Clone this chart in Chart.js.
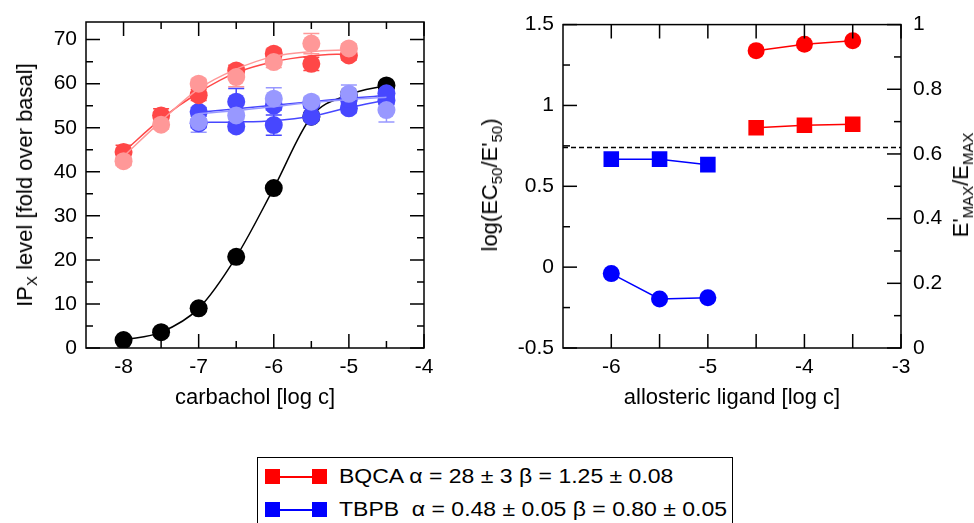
<!DOCTYPE html>
<html><head><meta charset="utf-8">
<script src="https://cdn.jsdelivr.net/npm/chart.js@4.4.0/dist/chart.umd.min.js"></script>
<style>
body{margin:0;background:#fff;width:974px;height:523px;overflow:hidden;position:relative;font-family:"Liberation Sans",Arial,sans-serif;color:#000;}
canvas{position:absolute;top:0;}
#c1{left:0;}
#c2{left:470px;}
.t{position:absolute;font-size:22px;white-space:nowrap;line-height:26px;}
.ctr{transform:translate(-50%,-50%);}
.rot{transform:translate(-50%,-50%) rotate(-90deg);}
sub{font-size:15px;vertical-align:-5px;line-height:0;}
#leg{position:absolute;left:257px;top:457px;width:476px;height:90px;border:1.5px solid #000;box-sizing:border-box;}
.row{position:absolute;left:0;height:30px;width:100%;}
.ln{position:absolute;left:14px;width:48px;height:1.5px;top:14px;}
.sq{position:absolute;width:15px;height:15px;top:7px;}
.lt{position:absolute;left:81px;top:2px;font-size:20px;white-space:pre;line-height:24px;transform:scaleX(1.15);transform-origin:0 50%;}
</style></head>
<body>
<canvas id="c1" width="460" height="420"></canvas>
<canvas id="c2" width="504" height="420"></canvas>

<div class="t rot" style="left:25px;top:185px;">IP<sub>X</sub> level [fold over basal]</div>
<div class="t ctr" style="left:255px;top:397px;">carbachol [log c]</div>
<div class="t rot" style="left:490px;top:185px;">log(EC<sub>50</sub>/E'<sub>50</sub>)</div>
<div class="t ctr" style="left:732px;top:397px;">allosteric ligand [log c]</div>
<div class="t rot" style="left:961px;top:185px;">E'<sub>MAX</sub>/E<sub>MAX</sub></div>

<div id="leg">
  <div class="row" style="top:4px;">
    <div class="ln" style="background:#ff0000;"></div>
    <div class="sq" style="left:7px;background:#ff0000;"></div>
    <div class="sq" style="left:54px;background:#ff0000;"></div>
    <div class="lt">BQCA α = 28 ± 3 β = 1.25 ± 0.08</div>
  </div>
  <div class="row" style="top:37px;">
    <div class="ln" style="background:#0000ff;"></div>
    <div class="sq" style="left:7px;background:#0000ff;"></div>
    <div class="sq" style="left:54px;background:#0000ff;"></div>
    <div class="lt">TBPB  α = 0.48 ± 0.05 β = 0.80 ± 0.05</div>
  </div>
</div>

<script>
// ---------- Left panel data ----------
const carbacholX = [-8, -7.5, -7, -6.5, -6, -5.5, -5, -4.5];
const controlY   = [1.8, 3.6, 9.0, 20.7, 36.3, 52.5, 57.5, 59.6];

const redX      = [-8, -7.5, -7, -6.5, -6, -5.5, -5];
const bqcaAY    = [44.5, 52.8, 57.4, 63.0, 66.8, 64.5, 66.4];
const bqcaAErr  = [1.5, 1.5, 1.2, 1.2, 1.0, 1.5, 1.0];
const bqcaAFit  = [44.5, 52.0, 58.0, 62.5, 65.0, 66.3, 66.8];
const bqcaBY    = [42.4, 50.7, 60.0, 61.5, 64.9, 69.1, 68.0];
const bqcaBErr  = [1.0, 1.0, 1.0, 2.2, 1.2, 2.3, 1.0];
const bqcaBFit  = [43.5, 51.5, 58.8, 63.3, 66.2, 67.3, 67.7];

const blueX      = [-7, -6.5, -6, -5.5, -5, -4.5];
const tbpbAY     = [53.6, 55.9, 55.0, 55.5, 56.5, 57.8];
const tbpbAErr   = [1.0, 3.0, 1.0, 1.0, 1.0, 1.0];
const tbpbAFit   = [53.5, 54.3, 55.1, 55.9, 56.7, 57.3];
const tbpbBY     = [51.0, 50.3, 50.6, 52.5, 54.4, 56.2];
const tbpbBErr   = [1.0, 1.0, 2.3, 1.0, 1.0, 1.0];
const tbpbBFit   = [51.2, 51.3, 51.6, 52.6, 54.6, 56.3];
const tbpbCY     = [51.3, 52.8, 56.6, 55.9, 57.7, 54.0];
const tbpbCErr   = [2.3, 1.0, 2.5, 1.0, 2.0, 2.7];
const tbpbCFit   = [53.2, 53.9, 54.8, 55.7, 56.4, 56.9];

const leftXMajor = [-8, -7, -6, -5, -4];
const leftXMinor = [-7.5, -6.5, -5.5, -4.5];
const leftYMajor = [0, 10, 20, 30, 40, 50, 60, 70];
const leftYMinor = [5, 15, 25, 35, 45, 55, 65];

// ---------- Right panel data ----------
const bqcaLigX     = [-4.5, -4, -3.5];
const bqcaLogRatio = [1.339, 1.379, 1.40];
const bqcaEmaxRat  = [0.681, 0.689, 0.692];
const tbpbLigX     = [-6, -5.5, -5];
const tbpbLogRatio = [-0.04, -0.197, -0.189];
const tbpbEmaxRat  = [0.584, 0.584, 0.567];
const refLineY     = 0.74;

const rightXMajor  = [-6, -5, -4, -3];
const rightXHalf   = [-5.5, -4.5, -3.5];
const rightY1Major = [-0.5, 0, 0.5, 1, 1.5];
const rightY1Minor = [-0.25, 0.25, 0.75, 1.25];
const rightY2Major = [0, 0.2, 0.4, 0.6, 0.8, 1];
const rightY2Minor = [0.1, 0.3, 0.5, 0.7, 0.9];

// ---------- helpers ----------
const pts = (xs, ys) => xs.map((x, i) => ({x, y: ys[i]}));
const DR = '#ff4747', LR = '#ff9898', DB = '#4747ff', LB = '#9898ff';

Chart.defaults.font.family = '"Liberation Sans", Arial, sans-serif';
Chart.defaults.font.size = 21;
Chart.defaults.color = '#000';
Chart.defaults.animation = false;

const frameTicks = {
  id: 'frameTicks',
  afterDraw(chart, args, opts) {
    const {ctx, chartArea: a} = chart;
    ctx.save();
    ctx.strokeStyle = '#000';
    ctx.lineWidth = 1.5;
    for (const t of opts.ticks) {
      const s = chart.scales[t.scale];
      for (const v of t.values) {
        const p = s.getPixelForValue(v);
        ctx.beginPath();
        if (s.isHorizontal()) {
          ctx.moveTo(p, a.bottom); ctx.lineTo(p, a.bottom - t.len);
          ctx.moveTo(p, a.top); ctx.lineTo(p, a.top + t.len);
        } else {
          if (t.left) { ctx.moveTo(a.left, p); ctx.lineTo(a.left + t.len, p); }
          if (t.right) { ctx.moveTo(a.right, p); ctx.lineTo(a.right - t.len, p); }
        }
        ctx.stroke();
      }
    }
    ctx.strokeRect(a.left, a.top, a.right - a.left, a.bottom - a.top);
    ctx.restore();
  }
};

const errorBars = {
  id: 'errorBars',
  beforeDatasetsDraw(chart) {
    const {ctx} = chart;
    const ys = chart.scales.y;
    ctx.save();
    ctx.lineWidth = 1.5;
    chart.data.datasets.forEach((ds, i) => {
      if (!ds.errors) return;
      const meta = chart.getDatasetMeta(i);
      ctx.strokeStyle = ds.borderColor;
      meta.data.forEach((el, j) => {
        const e = ds.errors[j];
        const v = ds.data[j].y;
        const y1 = ys.getPixelForValue(v - e), y2 = ys.getPixelForValue(v + e);
        ctx.beginPath();
        ctx.moveTo(el.x, y1); ctx.lineTo(el.x, y2);
        ctx.moveTo(el.x - 8, y1); ctx.lineTo(el.x + 8, y1);
        ctx.moveTo(el.x - 8, y2); ctx.lineTo(el.x + 8, y2);
        ctx.stroke();
      });
    });
    ctx.restore();
  }
};

const refLine = {
  id: 'refLine',
  afterDatasetsDraw(chart, args, opts) {
    if (opts.value === undefined) return;
    const {ctx, chartArea: a} = chart;
    const y = chart.scales.y.getPixelForValue(opts.value);
    ctx.save();
    ctx.strokeStyle = '#000'; ctx.lineWidth = 1.5; ctx.setLineDash([5, 3]);
    ctx.beginPath(); ctx.moveTo(a.left, y); ctx.lineTo(a.right, y); ctx.stroke();
    ctx.restore();
  }
};

function setTicks(arr) { return s => { s.ticks = arr.map(v => ({value: v})); }; }
const noGrid = {display: false, drawTicks: false, tickLength: 0};

function pointDs(xs, ys, col, err, order, radius = 9) {
  return {type: 'scatter', data: pts(xs, ys), showLine: false, pointRadius: radius,
    pointBackgroundColor: col, pointBorderColor: col, pointBorderWidth: 0, borderColor: col,
    errors: err, order: order};
}
function fitDs(xs, ys, col, order) {
  return {type: 'line', data: pts(xs, ys), pointRadius: 0, borderColor: col, borderWidth: 1.5,
    cubicInterpolationMode: 'monotone', fill: false, order: order};
}

// ---------- Left chart ----------
new Chart(document.getElementById('c1'), {
  type: 'scatter',
  data: {datasets: [
    pointDs(redX, bqcaBY, LR, bqcaBErr, 1),
    fitDs(redX, bqcaBFit, LR, 2),
    pointDs(blueX, tbpbCY, LB, tbpbCErr, 1),
    fitDs(blueX, tbpbCFit, LB, 2),
    pointDs(redX, bqcaAY, DR, bqcaAErr, 3),
    fitDs(redX, bqcaAFit, DR, 4),
    pointDs(blueX, tbpbAY, DB, tbpbAErr, 3),
    fitDs(blueX, tbpbAFit, DB, 4),
    pointDs(blueX, tbpbBY, DB, tbpbBErr, 3),
    fitDs(blueX, tbpbBFit, DB, 4),
    {type: 'line', data: pts(carbacholX, controlY), pointRadius: 9, pointBackgroundColor: '#000',
      pointBorderWidth: 0, borderColor: '#000', borderWidth: 1.5, cubicInterpolationMode: 'monotone', order: 6}
  ]},
  options: {
    responsive: false,
    layout: {padding: {top: 22, right: 36, left: 0, bottom: 0}},
    plugins: {legend: {display: false}, tooltip: {enabled: false},
      frameTicks: {ticks: [
        {scale: 'x', values: leftXMajor, len: 14},
        {scale: 'x', values: leftXMinor, len: 7},
        {scale: 'y', values: leftYMajor, len: 14, left: true, right: true},
        {scale: 'y', values: leftYMinor, len: 7, left: true, right: true}
      ]}},
    scales: {
      x: {type: 'linear', min: -8.5, max: -4, grid: noGrid, border: {display: false},
        afterBuildTicks: setTicks(leftXMajor), afterFit: s => { s.height = 72; },
        ticks: {padding: 7, maxRotation: 0, autoSkip: false, callback: v => String(v)}},
      y: {type: 'linear', min: 0, max: 74, grid: noGrid, border: {display: false},
        afterBuildTicks: setTicks(leftYMajor), afterFit: s => { s.width = 86; },
        ticks: {padding: 9, autoSkip: false, callback: v => String(v)}}
    }
  },
  plugins: [errorBars, frameTicks]
});

// ---------- Right chart ----------
new Chart(document.getElementById('c2'), {
  type: 'scatter',
  data: {datasets: [
    {type: 'line', data: pts(bqcaLigX, bqcaLogRatio), yAxisID: 'y', borderColor: '#ff0000', borderWidth: 1.5,
      pointRadius: 8.5, pointBackgroundColor: '#ff0000', pointBorderWidth: 0, tension: 0},
    {type: 'line', data: pts(bqcaLigX, bqcaEmaxRat), yAxisID: 'y2', borderColor: '#ff0000', borderWidth: 1.5,
      pointStyle: 'rect', pointRadius: 11, pointBackgroundColor: '#ff0000', pointBorderWidth: 0, tension: 0},
    {type: 'line', data: pts(tbpbLigX, tbpbLogRatio), yAxisID: 'y', borderColor: '#0000ff', borderWidth: 1.5,
      pointRadius: 8.5, pointBackgroundColor: '#0000ff', pointBorderWidth: 0, tension: 0},
    {type: 'line', data: pts(tbpbLigX, tbpbEmaxRat), yAxisID: 'y2', borderColor: '#0000ff', borderWidth: 1.5,
      pointStyle: 'rect', pointRadius: 11, pointBackgroundColor: '#0000ff', pointBorderWidth: 0, tension: 0}
  ]},
  options: {
    responsive: false,
    layout: {padding: {top: 22, right: 0, left: 0, bottom: 0}},
    plugins: {legend: {display: false}, tooltip: {enabled: false},
      refLine: {value: refLineY},
      frameTicks: {ticks: [
        {scale: 'x', values: rightXMajor, len: 14},
        {scale: 'x', values: rightXHalf, len: 14},
        {scale: 'y', values: rightY1Major, len: 14, left: true},
        {scale: 'y', values: rightY1Minor, len: 7, left: true},
        {scale: 'y2', values: rightY2Major, len: 14, right: true},
        {scale: 'y2', values: rightY2Minor, len: 7, right: true}
      ]}},
    scales: {
      x: {type: 'linear', min: -6.5, max: -3, grid: noGrid, border: {display: false},
        afterBuildTicks: setTicks(rightXMajor), afterFit: s => { s.height = 72; },
        ticks: {padding: 7, maxRotation: 0, autoSkip: false, callback: v => String(v)}},
      y: {type: 'linear', position: 'left', min: -0.5, max: 1.5, grid: noGrid, border: {display: false},
        afterBuildTicks: setTicks(rightY1Major), afterFit: s => { s.width = 93; },
        ticks: {padding: 9, autoSkip: false, callback: v => String(v)}},
      y2: {type: 'linear', position: 'right', min: 0, max: 1, grid: noGrid, border: {display: false},
        afterBuildTicks: setTicks(rightY2Major), afterFit: s => { s.width = 73; },
        ticks: {padding: 12, autoSkip: false, callback: v => String(v)}}
    }
  },
  plugins: [refLine, frameTicks]
});
</script>
</body></html>
